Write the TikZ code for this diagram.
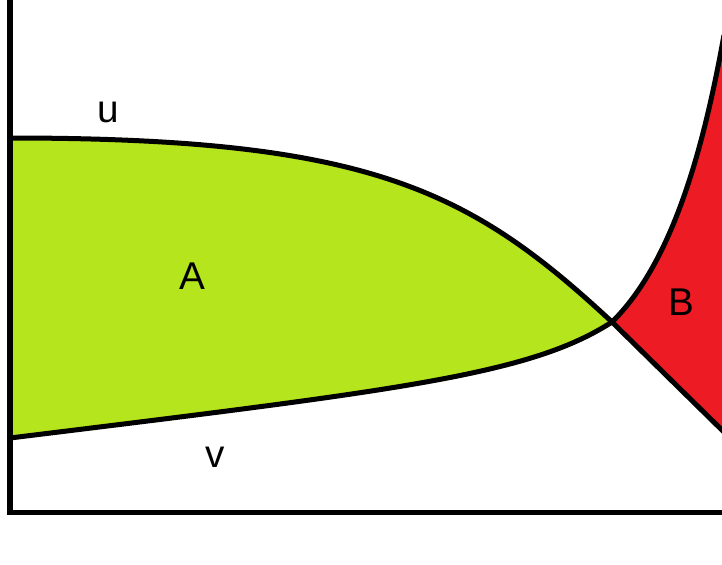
\documentclass[tikz,border=0pt]{standalone}
\usepackage{fontspec}
\setmainfont{Liberation Sans}
\usetikzlibrary{positioning}
\definecolor{areaA}{RGB}{181,230,29}
\definecolor{areaB}{RGB}{237,28,36}

\begin{document}
\begin{tikzpicture}[x=0.01cm,y=-0.01cm,line width=0.05cm,
    lbl/.style={font=\fontsize{11}{13}\selectfont}]

\useasboundingbox (0,0) rectangle (722,564);
\clip (0,0) rectangle (722,564);

\coordinate (u0) at (10,138);
\coordinate (v0) at (10,438);
\coordinate (cross) at (612,322);
\coordinate (u1) at (730,438);
\coordinate (v1) at (724,35);

% A
\fill[areaA] (u0) .. controls (370,138) and (470,190) .. (cross)
    .. controls (530,375) and (400,390) .. (v0) -- cycle;

% B
\fill[areaB] (cross) .. controls (675,260) and (705,140) .. (v1)
    -- (u1) -- cycle;

% u
\draw (u0) .. controls (370,138) and (470,190) .. (cross) -- (u1);

% v
\draw (v0) .. controls (400,390) and (530,375) .. (cross)
    .. controls (675,260) and (705,140) .. (v1);

% Axes
\coordinate (top) at (10,-5);
\coordinate (orig) at (10,512);
\coordinate (right) at (730,512);
\draw[line cap=round] (top) -- (orig) -- (right);

\node[lbl] (u) at (108,112) {u};
\node[lbl] (v) at (215,457) {v};
\node[lbl] (A) at (192,276) {A};
\node[lbl] (B) at (681,302) {B};

\end{tikzpicture}
\end{document}
